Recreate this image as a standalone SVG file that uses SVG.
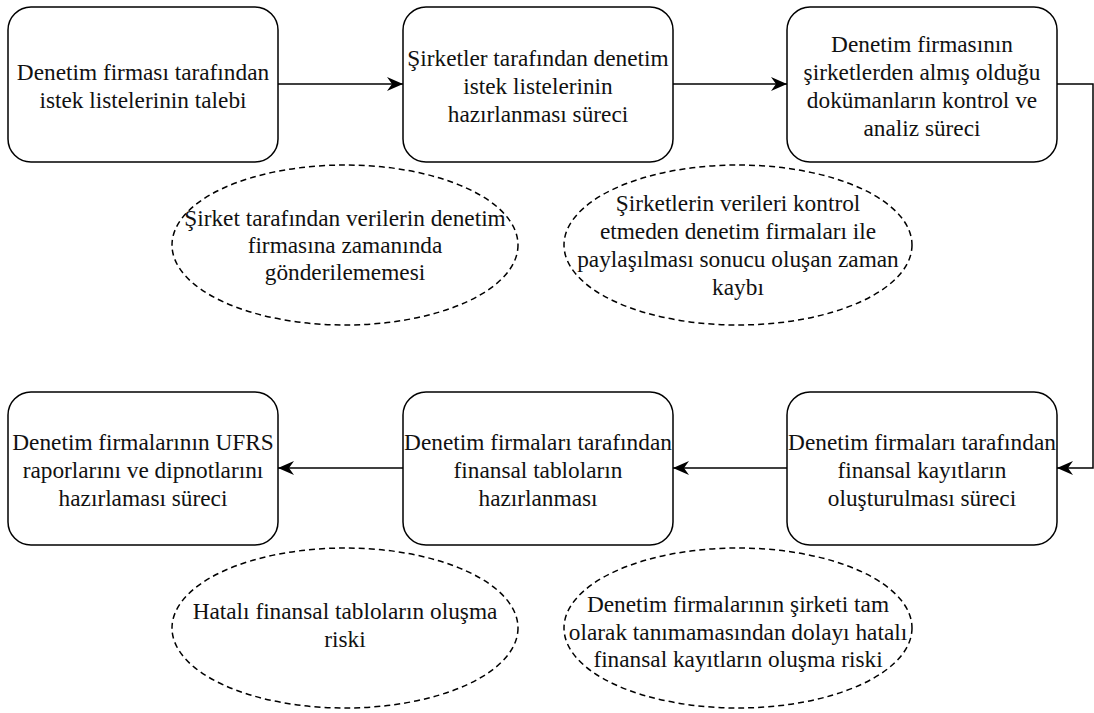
<svg xmlns="http://www.w3.org/2000/svg" width="1094" height="713" viewBox="0 0 1094 713">
  <style>
    .box { fill: #ffffff; stroke: #000000; stroke-width: 1.5; }
    .risk { fill: none; stroke: #000000; stroke-width: 1.5; stroke-dasharray: 6 4; }
    .edge { fill: none; stroke: #000000; stroke-width: 1.5; }
    .lbl { font-family: "Liberation Serif", "Times New Roman", Times, serif; font-size: 23.3px; fill: #111111; text-anchor: middle; }
  </style>
  <defs>
    <marker id="arrow" viewBox="0 0 16 14" refX="16" refY="7" markerWidth="16" markerHeight="14" markerUnits="userSpaceOnUse" orient="auto">
      <path d="M0,0 L16,7 L0,14 L5,7 Z" fill="#000000"/>
    </marker>
  </defs>

  <rect width="1094" height="713" fill="#ffffff"/>

  <!-- connectors -->
  <g id="connectors">
    <path class="edge" d="M278,84 L403,84" marker-end="url(#arrow)"/>
    <path class="edge" d="M673,84 L787,84" marker-end="url(#arrow)"/>
    <path class="edge" d="M1057,84 L1093,84 L1093,468 L1057,468" marker-end="url(#arrow)"/>
    <path class="edge" d="M787,468 L673,468" marker-end="url(#arrow)"/>
    <path class="edge" d="M403,468 L278,468" marker-end="url(#arrow)"/>
  </g>

  <!-- process steps -->
  <g id="step1">
    <rect class="box" x="8" y="7" width="270" height="155" rx="23"/>
    <text class="lbl" x="143" y="80">Denetim firması tarafından</text>
    <text class="lbl" x="143" y="108">istek listelerinin talebi</text>
  </g>
  <g id="step2">
    <rect class="box" x="403" y="7" width="270" height="155" rx="23"/>
    <text class="lbl" x="538" y="66">Şirketler tarafından denetim</text>
    <text class="lbl" x="538" y="94">istek listelerinin</text>
    <text class="lbl" x="538" y="122">hazırlanması süreci</text>
  </g>
  <g id="step3">
    <rect class="box" x="787" y="7" width="270" height="155" rx="23"/>
    <text class="lbl" x="922" y="52">Denetim firmasının</text>
    <text class="lbl" x="922" y="80">şirketlerden almış olduğu</text>
    <text class="lbl" x="922" y="108">dokümanların kontrol ve</text>
    <text class="lbl" x="922" y="136">analiz süreci</text>
  </g>
  <g id="step4">
    <rect class="box" x="787" y="392" width="270" height="153" rx="23"/>
    <text class="lbl" x="922" y="450">Denetim firmaları tarafından</text>
    <text class="lbl" x="922" y="478">finansal kayıtların</text>
    <text class="lbl" x="922" y="506">oluşturulması süreci</text>
  </g>
  <g id="step5">
    <rect class="box" x="403" y="392" width="270" height="153" rx="23"/>
    <text class="lbl" x="538" y="450">Denetim firmaları tarafından</text>
    <text class="lbl" x="538" y="478">finansal tabloların</text>
    <text class="lbl" x="538" y="506">hazırlanması</text>
  </g>
  <g id="step6">
    <rect class="box" x="8" y="392" width="270" height="153" rx="23"/>
    <text class="lbl" x="143" y="450">Denetim firmalarının UFRS</text>
    <text class="lbl" x="143" y="478">raporlarını ve dipnotlarını</text>
    <text class="lbl" x="143" y="506">hazırlaması süreci</text>
  </g>

  <!-- risks -->
  <g id="risk1">
    <ellipse class="risk" cx="345" cy="245" rx="173" ry="80"/>
    <text class="lbl" x="345" y="226">Şirket tarafından verilerin denetim</text>
    <text class="lbl" x="345" y="253">firmasına zamanında</text>
    <text class="lbl" x="345" y="280">gönderilememesi</text>
  </g>
  <g id="risk2">
    <ellipse class="risk" cx="738" cy="245" rx="174" ry="80"/>
    <text class="lbl" x="738" y="211">Şirketlerin verileri kontrol</text>
    <text class="lbl" x="738" y="239">etmeden denetim firmaları ile</text>
    <text class="lbl" x="738" y="267">paylaşılması sonucu oluşan zaman</text>
    <text class="lbl" x="738" y="295">kaybı</text>
  </g>
  <g id="risk3">
    <ellipse class="risk" cx="345" cy="628" rx="173" ry="80"/>
    <text class="lbl" x="345" y="619">Hatalı finansal tabloların oluşma</text>
    <text class="lbl" x="345" y="647">riski</text>
  </g>
  <g id="risk4">
    <ellipse class="risk" cx="738" cy="628" rx="174" ry="80"/>
    <text class="lbl" x="738" y="612">Denetim firmalarının şirketi tam</text>
    <text class="lbl" x="738" y="640">olarak tanımamasından dolayı hatalı</text>
    <text class="lbl" x="738" y="667">finansal kayıtların oluşma riski</text>
  </g>
</svg>
